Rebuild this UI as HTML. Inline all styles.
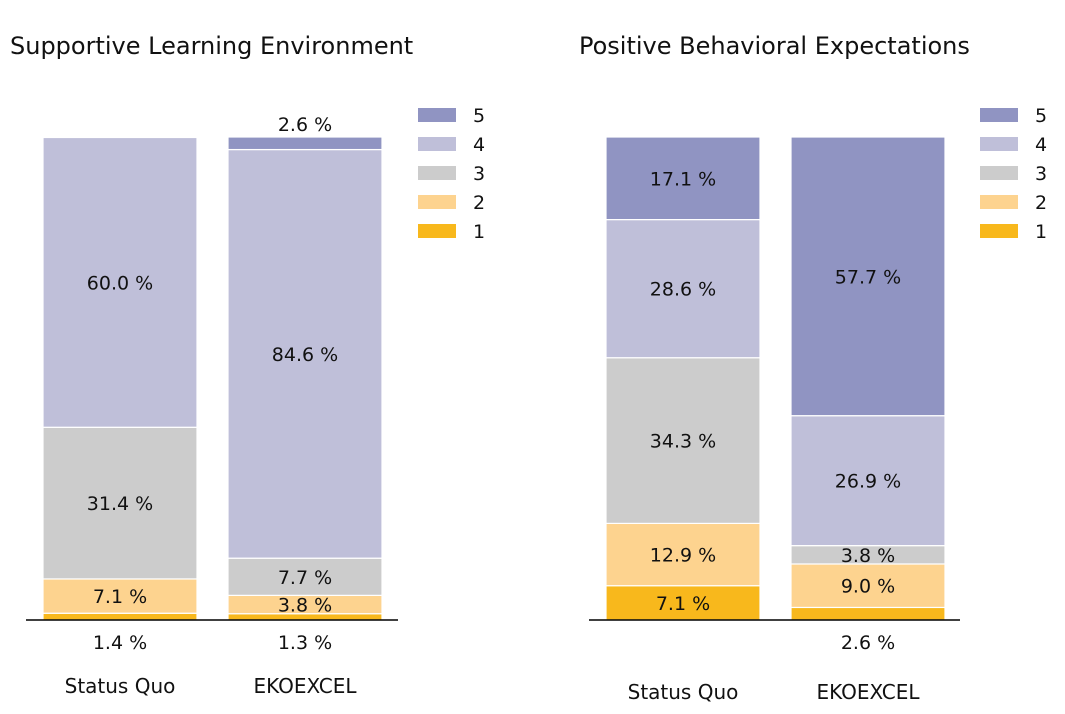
<!DOCTYPE html>
<html><head><meta charset="utf-8"><style>
body{margin:0;background:#fff;}
svg{display:block;font-family:"DejaVu Sans","Liberation Sans",sans-serif;}
</style></head><body>
<svg id="chart" width="1065" height="714"></svg>
<script>
const categories = ["Status Quo", "EKOEXCEL"];
const levels = ["1", "2", "3", "4", "5"];
const leftTitle = "Supportive Learning Environment";
const rightTitle = "Positive Behavioral Expectations";
const leftStatusQuo = [1.4, 7.1, 31.4, 60.0, 0];
const leftEkoexcel = [1.3, 3.8, 7.7, 84.6, 2.6];
const rightStatusQuo = [7.1, 12.9, 34.3, 28.6, 17.1];
const rightEkoexcel = [2.6, 9.0, 3.8, 26.9, 57.7];
const colors = ["#f8b81c", "#fdd38f", "#cccccc", "#bfbfd9", "#9094c2"];

const svg = document.getElementById('chart');
const NS = "http://www.w3.org/2000/svg";
function mk(tag, attrs, parent) {
  const e = document.createElementNS(NS, tag);
  for (const k in attrs) e.setAttribute(k, attrs[k]);
  (parent || svg).appendChild(e);
  return e;
}
const baseY = 620, fullH = 483;
function yScale(v) { return baseY - v / 100 * fullH; }

function panel(opts) {
  const g = mk('g', {});
  
  
  const t = mk('text', {x: opts.titleX, y: 54, 'font-size': 24, fill: '#111'}, g);
  t.textContent = opts.title;
  
  
  opts.series.forEach((vals, i) => {
    const bx = opts.barX[i];
    let cum = 0;
    vals.forEach((v, j) => {
      if (v <= 0) return;
      const y0 = yScale(cum), y1 = yScale(cum + v);
      const r = mk('rect', {x: bx, y: y1, width: 154, height: y0 - y1, fill: colors[j], stroke: '#fff', 'stroke-width': 1.2}, g);
      
      
      let ty;
      if (v < 3) {
        ty = (cum === 0) ? baseY + 29 : y1 - 6;
      } else ty = (y0 + y1) / 2 + 7;
      const lt = mk('text', {x: bx + 77, y: ty, 'font-size': 19, 'text-anchor': 'middle', fill: '#111'}, g);
      lt.textContent = v.toFixed(1) + ' %';
      
      
      cum += v;
    });
    const cl = mk('text', {x: bx + 77, y: opts.catY, 'font-size': 20, 'text-anchor': 'middle', fill: '#111'}, g);
    cl.textContent = categories[i];
    
    
  });
  const ax = mk('line', {x1: opts.axis[0], x2: opts.axis[1], y1: baseY, y2: baseY, stroke: '#000', 'stroke-width': 1.6}, g);
  
  
  for (let k = 4; k >= 0; k--) {
    const row = 4 - k;
    const yy = 115 + row * 29;
    const sw = mk('rect', {x: opts.legX, y: yy - 7, width: 38, height: 14, fill: colors[k]}, g);
    
    
    const lt = mk('text', {x: opts.legX + 55, y: yy + 7, 'font-size': 19, fill: '#111'}, g);
    lt.textContent = levels[k];
    
    
  }
}
panel({name: 'left-panel', title: leftTitle, titleX: 10, series: [leftStatusQuo, leftEkoexcel], barX: [43, 228], axis: [26, 398], legX: 418, catY: 693});
panel({name: 'right-panel', title: rightTitle, titleX: 579, series: [rightStatusQuo, rightEkoexcel], barX: [606, 791], axis: [589, 960], legX: 980, catY: 699});
</script>
</body></html>
